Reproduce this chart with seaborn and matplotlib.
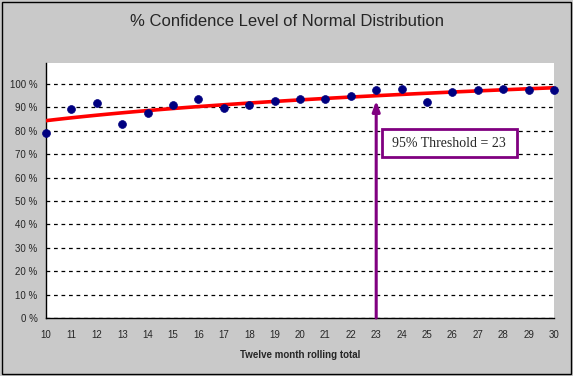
import matplotlib
matplotlib.use("Agg")
import matplotlib.pyplot as plt
from matplotlib.patches import Rectangle
import pandas as pd
import seaborn as sns

# rolling total (x) and confidence level (fraction)
totals = list(range(10, 31))
confidence = [0.789, 0.892, 0.917, 0.829, 0.877, 0.912, 0.936, 0.897, 0.909, 0.926,
              0.936, 0.936, 0.950, 0.974, 0.977, 0.922, 0.965, 0.974, 0.977, 0.974, 0.974]
y_ticks = [0.0, 0.1, 0.2, 0.3, 0.4, 0.5, 0.6, 0.7, 0.8, 0.9, 1.0]
y_tick_labels = ["0 %", "10 %", "20 %", "30 %", "40 %", "50 %",
                 "60 %", "70 %", "80 %", "90 %", "100 %"]
threshold = 23
threshold_label = "95% Threshold = 23"

BG = "#c9c9c9"
PURPLE = "#800080"
df = pd.DataFrame({"total": totals, "confidence": confidence})

sns.set_style("white")
plt.rcParams["font.family"] = ["Liberation Sans", "DejaVu Sans"]

fig = plt.figure(figsize=(5.73, 3.76), dpi=100, facecolor=BG)
ax = fig.add_axes([46 / 573, 58 / 376, 508 / 573, 255 / 376])
ax.set_facecolor("white")

# logarithmic trendline fitted by seaborn
sns.regplot(data=df, x="total", y="confidence", logx=True, ci=None, scatter=False,
            truncate=True, line_kws={"color": "#ff0000", "lw": 2.6, "zorder": 3}, ax=ax)
sns.scatterplot(data=df, x="total", y="confidence", color="#000080", s=32,
                edgecolor="#000080", linewidth=0.5, zorder=4, clip_on=False, ax=ax)

ax.set_xlim(10, 30)
ax.set_ylim(0, 1.09)
ax.set_xticks(totals)
ax.set_xticklabels([str(t) for t in totals], fontsize=7)
ax.set_yticks(y_ticks)
ax.set_yticklabels(y_tick_labels, fontsize=7)
ax.tick_params(axis="both", direction="out", length=3, width=0.8, color="black", pad=3)
ax.tick_params(axis="x", pad=6)
ax.yaxis.grid(True, color="black", linestyle=(0, (3, 3)), linewidth=0.9)
ax.set_axisbelow(True)
for side in ["top", "right"]:
    ax.spines[side].set_visible(False)
for side in ["left", "bottom"]:
    ax.spines[side].set_color("black")
    ax.spines[side].set_linewidth(1)

ax.set_xlabel("Twelve month rolling total", fontsize=7, fontweight="bold", labelpad=7)
ax.set_ylabel("")

# threshold arrow and label box
ax.annotate("", xy=(threshold, 0.929), xytext=(threshold, 0.0),
            arrowprops=dict(arrowstyle="-|>,head_width=0.22,head_length=0.6",
                            color=PURPLE, lw=2.2, shrinkA=0, shrinkB=0), zorder=5)
ax.add_patch(Rectangle((23.23, 0.688), 5.31, 0.12, facecolor="white",
                       edgecolor=PURPLE, lw=2, zorder=6))
ax.text(23.62, 0.748, threshold_label, fontsize=10, family=["Liberation Serif", "DejaVu Serif"],
        va="center", ha="left", zorder=7)

fig.text(0.5, 0.944, "% Confidence Level of Normal Distribution", ha="center", va="center",
         fontsize=12)
fig.patches.append(Rectangle((0.004, 0.006), 0.992, 0.99, transform=fig.transFigure,
                             fill=False, edgecolor="black", lw=1))

fig.savefig("out.png", dpi=100, facecolor=BG)
plt.close(fig)
print("Saved → out.png")
